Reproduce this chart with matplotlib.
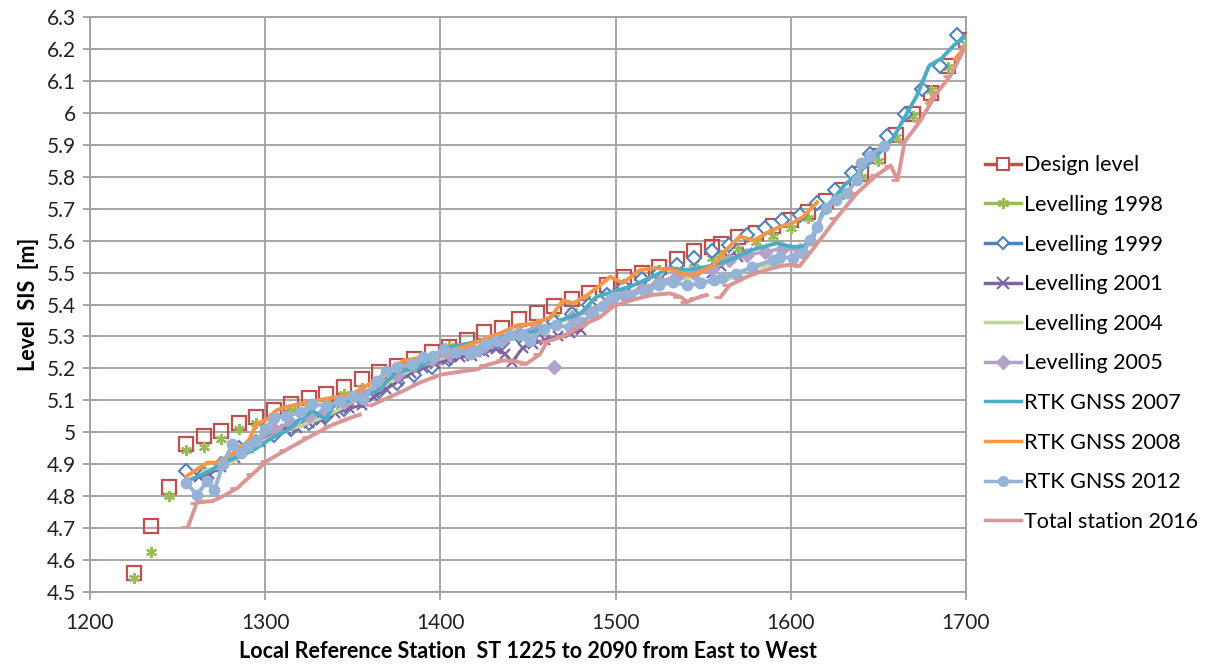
import numpy as np
import matplotlib
matplotlib.use("Agg")
import matplotlib.pyplot as plt
from matplotlib.lines import Line2D

plt.rcParams['font.family'] = ['Lato', 'DejaVu Sans']

nan = np.nan

# Design level (squares)
design_x = [1225, 1235, 1245, 1255, 1265, 1275, 1285, 1295, 1305, 1315, 1325, 1335, 1345, 1355,
            1365, 1375, 1385, 1395, 1405, 1415, 1425, 1435, 1445, 1455, 1465, 1475, 1485, 1495,
            1505, 1515, 1525, 1535, 1545, 1555, 1560, 1570, 1580, 1590, 1600, 1610, 1620, 1630,
            1640, 1650, 1660, 1670, 1680, 1690, 1700]
design_y = [4.558, 4.708, 4.828, 4.964, 4.989, 5.005, 5.030, 5.049, 5.071, 5.090, 5.106, 5.121,
            5.143, 5.166, 5.188, 5.208, 5.228, 5.250, 5.268, 5.290, 5.313, 5.328, 5.354, 5.372,
            5.394, 5.417, 5.435, 5.460, 5.486, 5.500, 5.518, 5.543, 5.566, 5.580, 5.590, 5.610,
            5.625, 5.645, 5.665, 5.690, 5.725, 5.760, 5.810, 5.866, 5.930, 5.995, 6.062, 6.146,
            6.227]

# Levelling 1998 (stars)
lev98_x = design_x
lev98_y = [4.545, 4.625, 4.800, 4.945, 4.955, 4.980, 5.010, 5.030, 5.050, 5.070, 5.080, 5.095,
           5.120, 5.140, 5.160, 5.180, 5.205, 5.225, 5.270, 5.265, 5.280, 5.300, 5.325, 5.340,
           5.360, 5.380, 5.410, 5.430, 5.455, 5.470, 5.490, 5.510, 5.530, 5.545, 5.555, 5.575,
           5.595, 5.615, 5.640, 5.670, 5.700, 5.745, 5.800, 5.850, 5.925, 5.990, 6.070, 6.145,
           6.215]

# Levelling 1999 (hollow diamonds)
lev99_x = [1255, 1265, 1275, 1285, 1295, 1305, 1315, 1325, 1335, 1345, 1355, 1365, 1375, 1385,
           1395, 1405, 1415, 1425, 1435, 1445, 1455, 1465, 1475, 1485, 1495, 1505, 1515, 1525,
           1535, 1545, 1555, 1565, 1575, 1585, 1595, 1605, 1615, 1625, 1635, 1645, 1655, 1665,
           1675, 1685, 1695]
lev99_y = [4.880, 4.870, 4.900, 4.950, 4.970, 4.990, 5.010, 5.030, 5.050, 5.072, 5.100, 5.130,
           5.155, 5.180, 5.205, 5.230, 5.250, 5.265, 5.280, 5.300, 5.320, 5.345, 5.370, 5.400,
           5.430, 5.455, 5.480, 5.500, 5.525, 5.545, 5.566, 5.587, 5.618, 5.639, 5.665, 5.680,
           5.718, 5.760, 5.812, 5.870, 5.928, 5.996, 6.075, 6.148, 6.245]

# Levelling 2001 (x markers)
lev01_x = [1262, 1268, 1275, 1283, 1290, 1297, 1305, 1312, 1318, 1325, 1332, 1340, 1348, 1355,
           1362, 1369, 1376, 1383, 1390, 1397, 1404, 1411, 1418, 1425, 1432, 1437, 1441, 1447,
           1453, 1460, 1467, 1474, 1480, 1517, 1555, 1560, 1565, 1570, 1575]
lev01_y = [4.860, 4.870, 4.890, 4.920, 4.950, 4.970, 5.000, 5.010, 5.015, 5.030, 5.040, 5.060,
           5.075, 5.085, 5.110, 5.135, 5.160, 5.185, 5.200, 5.215, 5.225, 5.235, 5.240, 5.250,
           5.260, 5.245, 5.220, 5.265, 5.277, 5.290, 5.300, 5.310, 5.320, nan, 5.500, 5.520,
           5.545, 5.550, 5.560]

# Levelling 2004 (line)
lev04_x = [1265, 1275, 1285, 1295, 1305, 1315, 1325, 1335, 1345, 1355, 1365, 1375, 1385, 1395,
           1405, 1415, 1425, 1435, 1445, 1455, 1465, 1475, 1485, 1495, 1505, 1515, 1525, 1535,
           1545, 1555, 1565, 1575, 1585, 1595]
lev04_y = [4.880, 4.890, 4.920, 4.960, 4.990, 5.010, 5.030, 5.050, 5.080, 5.110, 5.140, 5.170,
           5.200, 5.220, 5.240, 5.260, 5.275, 5.290, 5.300, 5.315, 5.335, 5.360, 5.380, 5.410,
           5.430, 5.450, 5.465, 5.480, 5.485, 5.470, 5.480, 5.510, 5.520, 5.530]

# Levelling 2005 (filled diamonds)
lev05_x = [1275, 1285, 1295, 1305, 1315, 1325, 1335, 1345, 1355, 1365, 1375, 1385, 1395, 1405,
           1415, 1425, 1435, 1445, 1455, 1460, 1465, 1470, 1475, 1485, 1495, 1505, 1515, 1525,
           1535, 1545, 1555, 1565, 1575, 1585, 1595, 1605]
lev05_y = [4.900, 4.940, 4.970, 5.010, 5.030, 5.050, 5.070, 5.095, 5.120, 5.150, 5.180, 5.210,
           5.230, 5.245, 5.260, 5.270, 5.290, 5.310, 5.330, nan, 5.203, nan, 5.360, 5.380,
           5.405, 5.430, 5.450, 5.470, 5.490, 5.500, 5.510, 5.540, 5.555, 5.565, 5.575, 5.570]

# RTK GNSS 2007 (line)
rtk07_x = [1255, 1268, 1278, 1286, 1295, 1304, 1312, 1320, 1327, 1335, 1339, 1354, 1364, 1375,
           1388, 1405, 1424, 1441, 1457, 1468, 1480, 1489, 1499, 1510, 1521, 1531, 1540, 1552,
           1565, 1578, 1592, 1600, 1607, 1613, 1618, 1630, 1645, 1658, 1672, 1679, 1686, 1693,
           1700]
rtk07_y = [4.846, 4.878, 4.910, 4.925, 4.950, 4.983, 5.004, 5.040, 5.067, 5.040, 5.088, 5.109,
           5.130, 5.188, 5.203, 5.266, 5.287, 5.303, 5.319, 5.350, 5.372, 5.424, 5.440, 5.460,
           5.487, 5.514, 5.508, 5.518, 5.539, 5.571, 5.592, 5.581, 5.581, 5.613, 5.686, 5.770,
           5.844, 5.917, 6.054, 6.148, 6.170, 6.211, 6.240]

# RTK GNSS 2008 (line)
rtk08_x = [1255, 1267, 1272, 1277, 1286, 1291, 1295, 1301, 1306, 1310, 1330, 1350, 1365, 1379,
           1395, 1409, 1415, 1424, 1434, 1444, 1453, 1463, 1470, 1476, 1484, 1491, 1497, 1504,
           1514, 1523, 1533, 1541, 1546, 1556, 1563, 1571, 1579, 1586, 1594, 1601, 1607, 1615,
           1650, 1678, 1683, 1689, 1694, 1700]
rtk08_y = [4.862, 4.905, 4.905, 4.920, 4.950, 4.978, 5.025, 5.040, 5.067, 5.077, 5.100, 5.120,
           5.170, 5.224, 5.240, 5.261, 5.270, 5.290, 5.310, 5.335, 5.340, 5.360, 5.413, 5.404,
           5.430, 5.460, 5.487, 5.467, 5.508, 5.514, 5.508, 5.492, 5.497, 5.523, 5.571, 5.613,
           5.600, 5.623, 5.644, 5.655, 5.675, 5.720, nan, 6.030, 6.060, nan, 6.170, 6.210]

# RTK GNSS 2012 (filled circles)
rtk12_x = [1255, 1261, 1267, 1271, 1276, 1281, 1286, 1290, 1295, 1300, 1305, 1312, 1320, 1327,
           1335, 1343, 1350, 1356, 1364, 1369, 1375, 1384, 1390, 1396, 1402, 1409, 1417, 1421,
           1426, 1432, 1440, 1447, 1451, 1459, 1466, 1474, 1481, 1487, 1493, 1499, 1508, 1518,
           1525, 1533, 1541, 1548, 1556, 1561, 1569, 1578, 1590, 1594, 1601, 1607, 1611, 1615,
           1620, 1626, 1632, 1638, 1640, 1645, 1653]
rtk12_y = [4.841, 4.805, 4.846, 4.820, 4.900, 4.962, 4.936, 4.957, 4.972, 5.010, 5.046, 5.051,
           5.062, 5.088, 5.083, 5.098, 5.114, 5.104, 5.161, 5.193, 5.203, 5.214, 5.235, 5.240,
           5.261, 5.250, 5.245, 5.255, 5.277, 5.287, 5.303, 5.303, 5.287, 5.324, 5.335, 5.329,
           5.345, 5.370, 5.395, 5.424, 5.429, 5.445, 5.460, 5.470, 5.460, 5.466, 5.476, 5.482,
           5.497, 5.518, 5.539, 5.550, 5.545, 5.560, 5.602, 5.644, 5.702, 5.728, 5.749, 5.791,
           5.844, 5.865, 5.896]

# Total station 2016 (line)
ts16_x = [1256, 1261, 1270, 1276, 1284, 1293, 1301, 1312, 1325, 1337, 1346, 1354, 1357, 1361,
          1369, 1379, 1388, 1400, 1411, 1421, 1426, 1436, 1443, 1449, 1457, 1461, 1470, 1478,
          1485, 1491, 1499, 1510, 1521, 1531, 1537, 1541, 1546, 1552, 1556, 1560, 1565, 1575,
          1584, 1594, 1600, 1605, 1615, 1626, 1638, 1649, 1657, 1661, 1665, 1674, 1683, 1691,
          1700]
ts16_y = [4.705, 4.780, 4.785, 4.800, 4.825, 4.870, 4.910, 4.945, 4.985, 5.020, 5.040, 5.055,
          nan, 5.085, 5.105, 5.130, 5.155, 5.180, 5.190, 5.197, 5.210, 5.225, 5.222, 5.214,
          5.245, 5.285, 5.300, 5.325, 5.345, 5.360, 5.395, 5.415, 5.430, 5.435, 5.424, 5.408,
          5.420, 5.430, nan, 5.424, 5.460, 5.487, 5.505, 5.520, 5.525, 5.520, 5.590, 5.670,
          5.750, 5.805, 5.835, 5.790, 5.910, 5.975, 6.060, 6.115, 6.210]

fig = plt.figure(figsize=(12.09, 6.64), dpi=100)
ax = fig.add_axes([0.0744, 0.1084, 0.7246, 0.866])

star = (6, 2, 0)
ax.plot(design_x, design_y, ls='none', marker='s', ms=10, mfc='none', mec='#c0504d', mew=1.6, zorder=3)
ax.plot(lev98_x, lev98_y, ls='none', marker=star, ms=8, color='#9bbb59', mew=1.6, zorder=3)
ax.plot(lev99_x, lev99_y, ls='none', marker='D', ms=7, mfc='white', mec='#4f81bd', mew=1.5, zorder=3)
ax.plot(lev01_x, lev01_y, color='#8064a2', lw=2.2, marker='x', ms=7, mew=1.6, zorder=3)
ax.plot(lev04_x, lev04_y, color='#c3d69b', lw=2.5, zorder=3)
ax.plot(lev05_x, lev05_y, color='#b3a2c7', lw=2.5, marker='D', ms=7, zorder=3)
ax.plot(rtk07_x, rtk07_y, color='#4bacc6', lw=2.8, zorder=4)
ax.plot(rtk08_x, rtk08_y, color='#f79646', lw=2.8, zorder=4)
ax.plot(rtk12_x, rtk12_y, color='#95b3d7', lw=2.8, marker='o', ms=7.5, zorder=5)
ax.plot(ts16_x, ts16_y, color='#d99694', lw=2.8, marker=0, ms=5, mew=2, zorder=5)

yticks = np.round(np.arange(4.5, 6.31, 0.1), 1)
ax.set_xlim(1200, 1700)
ax.set_ylim(4.5, 6.3)
ax.set_xticks([1200, 1300, 1400, 1500, 1600, 1700])
ax.set_yticks(yticks)
ax.set_yticklabels([('%g' % v) for v in yticks])
ax.grid(True, color='#a0a0a0', lw=1.3)
ax.set_axisbelow(True)
for s in ax.spines.values():
    s.set_color('#a0a0a0')
    s.set_linewidth(1.3)
ax.tick_params(axis='both', colors='#a0a0a0', labelcolor='#222222', labelsize=15, width=1.3)
ax.tick_params(axis='y', direction='inout', length=10, pad=5)
ax.tick_params(axis='x', direction='out', length=6, pad=9)

ax.set_xlabel('Local Reference Station  ST 1225 to 2090 from East to West', fontsize=15.5,
              fontweight='bold', labelpad=6)
ax.set_ylabel('Level  SIS  [m]', fontsize=15.5, fontweight='bold', labelpad=6)

handles = [
    Line2D([], [], color='#c0504d', lw=2.5, marker='s', ms=9, mfc='white', mec='#c0504d', mew=1.5),
    Line2D([], [], color='#9bbb59', lw=2.5, marker=star, ms=8, mew=1.5),
    Line2D([], [], color='#4f81bd', lw=2.5, marker='D', ms=6, mfc='white', mec='#4f81bd', mew=1.5),
    Line2D([], [], color='#8064a2', lw=2.5, marker='x', ms=8, mew=1.5),
    Line2D([], [], color='#c3d69b', lw=2.5),
    Line2D([], [], color='#b3a2c7', lw=2.5, marker='D', ms=7),
    Line2D([], [], color='#4bacc6', lw=2.5),
    Line2D([], [], color='#f79646', lw=2.5),
    Line2D([], [], color='#95b3d7', lw=2.5, marker='o', ms=7),
    Line2D([], [], color='#d99694', lw=2.5),
]
labels = ['Design level', 'Levelling 1998', 'Levelling 1999', 'Levelling 2001', 'Levelling 2004',
          'Levelling 2005', 'RTK GNSS 2007', 'RTK GNSS 2008', 'RTK GNSS 2012', 'Total station 2016']
fig.legend(handles, labels, loc='upper left', bbox_to_anchor=(0.8145, 0.766), frameon=False,
           fontsize=15.5, handlelength=1.67, handletextpad=0.15, labelspacing=0.91, borderpad=0,
           borderaxespad=0)

fig.savefig('out.png', dpi=100)
